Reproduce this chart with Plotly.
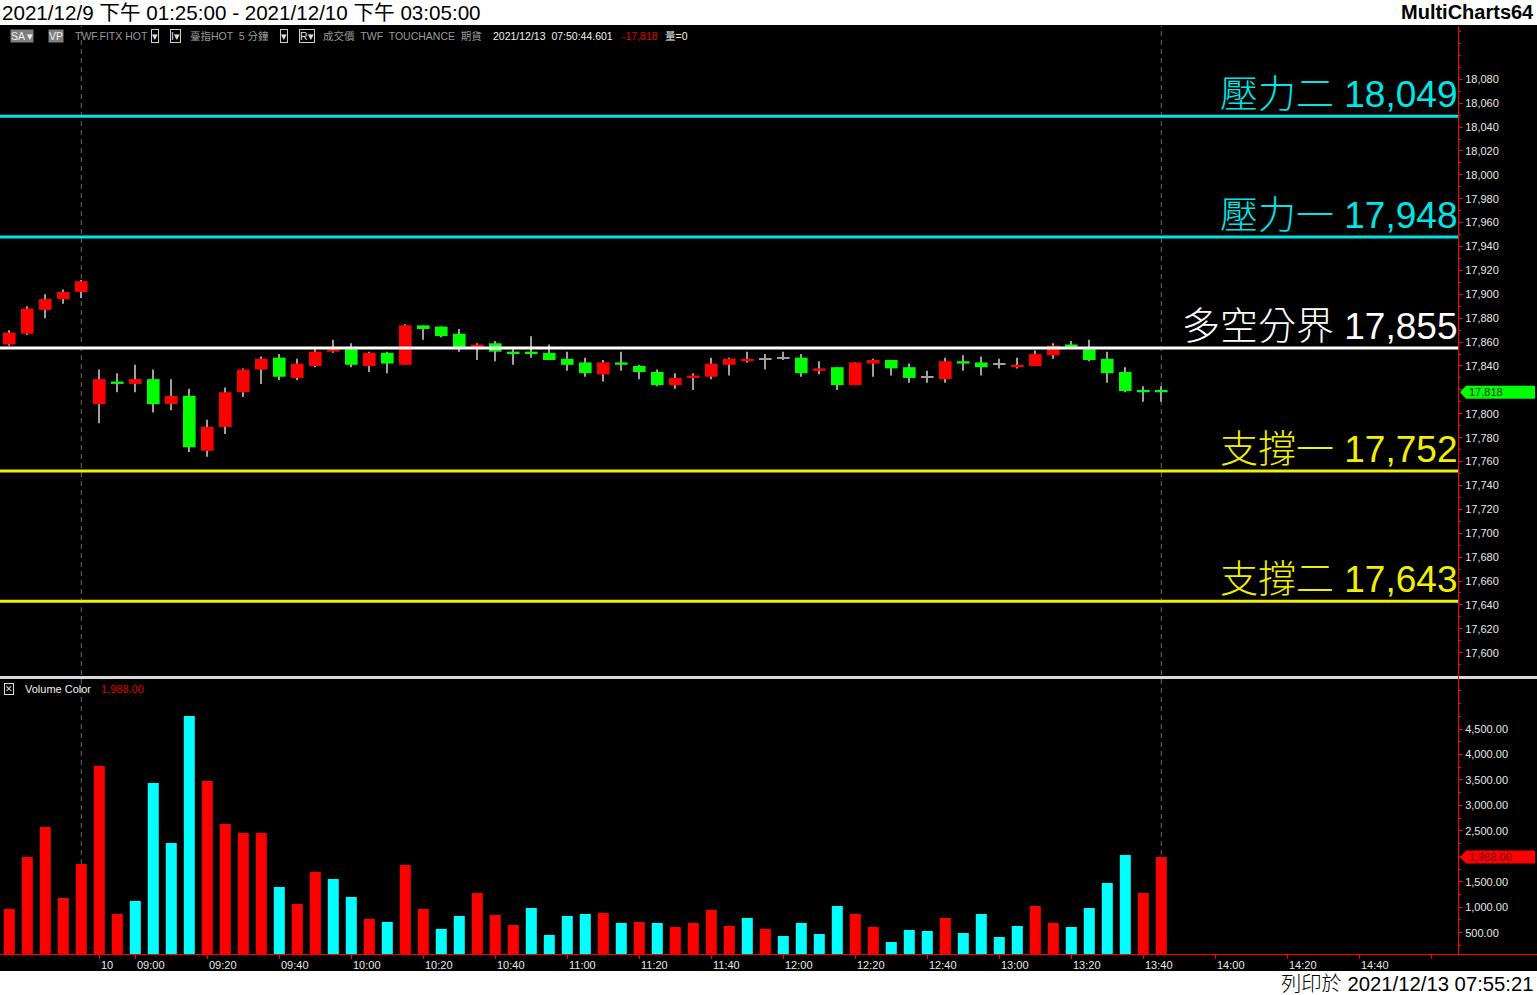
import plotly.graph_objects as go

W, H = 1537, 995

# ---------------- data ----------------
OPEN = [17858, 17867, 17887, 17896, 17902,
        17808, 17827, 17825, 17829, 17808, 17815, 17769, 17789, 17818, 17837,
        17847, 17830, 17840, 17852, 17854, 17840, 17851, 17841, 17874, 17873,
        17867, 17856, 17859, 17852, 17852, 17851, 17846, 17843, 17833, 17843,
        17840, 17835, 17824, 17830, 17831, 17841, 17844, 17846, 17847, 17847,
        17836, 17839, 17824, 17842, 17845, 17839, 17831, 17829, 17844, 17843,
        17842, 17839, 17840, 17849, 17858, 17854, 17846, 17835, 17820, 17820]
HIGH = [17870, 17890, 17900, 17904, 17912,
        17837, 17834, 17841, 17837, 17829, 17821, 17795, 17822, 17838, 17848,
        17850, 17846, 17854, 17862, 17859, 17852, 17852, 17875, 17874, 17873,
        17871, 17859, 17861, 17854, 17865, 17858, 17852, 17847, 17845, 17852,
        17841, 17837, 17834, 17834, 17847, 17847, 17852, 17850, 17852, 17850,
        17844, 17839, 17843, 17846, 17845, 17842, 17836, 17847, 17849, 17848,
        17846, 17847, 17853, 17859, 17861, 17862, 17852, 17839, 17823, 17823]
LOW = [17857, 17866, 17880, 17892, 17897,
       17792, 17818, 17818, 17801, 17803, 17768, 17764, 17783, 17814, 17825,
       17828, 17828, 17839, 17851, 17839, 17835, 17834, 17841, 17862, 17864,
       17852, 17845, 17844, 17841, 17847, 17845, 17836, 17831, 17827, 17836,
       17829, 17823, 17821, 17820, 17829, 17832, 17843, 17837, 17845, 17831,
       17833, 17820, 17824, 17831, 17832, 17826, 17826, 17826, 17836, 17832,
       17838, 17838, 17840, 17846, 17856, 17844, 17826, 17818, 17810, 17810]
CLOSE = [17868, 17888, 17896, 17902, 17911,
         17829, 17825, 17829, 17808, 17815, 17772, 17789, 17818, 17837, 17846,
         17831, 17842, 17852, 17854, 17841, 17851, 17842, 17874, 17871, 17865,
         17855, 17858, 17852, 17850, 17850, 17845, 17841, 17834, 17843, 17841,
         17835, 17824, 17830, 17832, 17842, 17846, 17846, 17846, 17847, 17834,
         17838, 17824, 17843, 17845, 17838, 17830, 17831, 17844, 17842, 17839,
         17842, 17841, 17850, 17857, 17856, 17845, 17834, 17819, 17818, 17818]
VOLUME = [966, 1987, 2576, 1182, 1850,
          3774, 869, 1124, 3440, 2262, 4755, 3480, 2635, 2458, 2458,
          1398, 1064, 1693, 1555, 1202, 771, 712, 1830, 966, 575,
          829, 1280, 849, 651, 985, 456, 829, 868, 888, 692,
          711, 692, 613, 692, 947, 632, 790, 574, 436, 692,
          475, 1025, 868, 613, 318, 554, 534, 790, 495, 868,
          416, 632, 1025, 692, 613, 985, 1476, 2026, 1280, 1988]
VOL_DIR = list("RRRRRRRCCCCRRRRCRRCCRCRRCCRRRCCCCRCRCRRRRCRCCCCRRCCCRCCCCRRCCCCRR")

LEVEL_NAMES = ["壓力二", "壓力一", "多空分界", "支撐一", "支撐二"]
LEVEL_VALUES = [18049, 17948, 17855, 17752, 17643]
LEVEL_COLORS = ["#00E6E6", "#00E6E6", "#FFFFFF", "#F0F000", "#F0F000"]

XTICK_POS = [6, 8, 12, 16, 20, 24, 28, 32, 36, 40, 44, 48, 52, 56, 60, 64, 68, 72, 76, 80]
XTICK_TEXT = ["10", "09:00", "09:20", "09:40", "10:00", "10:20", "10:40", "11:00",
              "11:20", "11:40", "12:00", "12:20", "12:40", "13:00", "13:20", "13:40",
              "14:00", "14:20", "14:40", ""]
SESSION_END = [5, 65]
PRICE_TICKS = list(range(17600, 18081, 20))
VOL_TICKS = [500, 1000, 1500, 2000, 2500, 3000, 3500, 4000, 4500]

# ---------------- helpers ----------------
FONT = "Liberation Sans, Arial, Noto Sans CJK TC, sans-serif"


def px(x):
    return x / W


def py(y):
    return 1 - y / H


IDX = list(range(1, len(OPEN) + 1))
RED, GREEN, CYAN, GRAY = "#FF0000", "#00FF00", "#00FFFF", "#A0A0A0"

body_base, body_h, body_col = [], [], []
for o, c in zip(OPEN, CLOSE):
    if c == o:
        body_base.append(o - 0.45)
        body_h.append(0.9)
        body_col.append(GRAY)
    else:
        lo, hi = min(o, c), max(o, c)
        h = max(hi - lo, 1.7)
        body_base.append(lo)
        body_h.append(h)
        body_col.append(RED if c > o else GREEN)

last_c = CLOSE[-1]
last_v = VOLUME[-1]

fig = go.Figure()

# wicks
fig.add_trace(go.Bar(x=IDX, y=[h - l for h, l in zip(HIGH, LOW)], base=LOW,
                     width=1.1 / 18, marker=dict(color=GRAY, line=dict(width=0)),
                     xaxis="x", yaxis="y", hoverinfo="skip"))
# bodies
fig.add_trace(go.Bar(x=IDX, y=body_h, base=body_base, width=0.7,
                     marker=dict(color=body_col, line=dict(width=0)),
                     xaxis="x", yaxis="y", hoverinfo="skip"))
# volume
fig.add_trace(go.Bar(x=IDX, y=VOLUME, width=0.61,
                     marker=dict(color=[RED if d == "R" else CYAN for d in VOL_DIR],
                                 line=dict(width=0)),
                     xaxis="x2", yaxis="y2", hoverinfo="skip"))

XR = [0.4833, 81.4833]
XDOM = [0, px(1458)]
PR = [17580.5, 18124.6]
VR = [82, 5482]

tickfont = dict(family=FONT, size=11, color="#E8E8E8")

# labels hidden behind the last-value flags
price_text = ["" if abs(v - last_c) < 10 else f"{v:,}" for v in PRICE_TICKS]
vol_text = ["" if abs(v - last_v) < 200 else f"{v:,.2f}" for v in VOL_TICKS]

fig.update_layout(
    width=W, height=H,
    margin=dict(l=0, r=0, t=0, b=0),
    paper_bgcolor="#000000", plot_bgcolor="#000000",
    barmode="overlay", showlegend=False, hovermode=False,
    xaxis=dict(domain=XDOM, range=XR, showgrid=False, zeroline=False,
               showticklabels=False, ticks="", anchor="y"),
    yaxis=dict(domain=[py(676), py(26)], range=PR, side="right",
               anchor="x", showgrid=False, zeroline=False, showline=False,
               tickmode="array", tickvals=PRICE_TICKS, ticktext=price_text,
               ticks="outside", ticklen=4, tickcolor=RED, tickwidth=1,
               minor=dict(ticks="outside", ticklen=2, tickcolor=RED, dtick=10, tick0=0),
               tickfont=tickfont),
    xaxis2=dict(domain=XDOM, range=XR, showgrid=False, zeroline=False,
                showticklabels=False, tickmode="array", tickvals=XTICK_POS,
                ticks="outside", ticklen=4, tickcolor=RED, anchor="y2"),
    yaxis2=dict(domain=[py(954), py(679)], range=VR, side="right",
                anchor="x2", showgrid=False, zeroline=False, showline=False,
                tickmode="array", tickvals=VOL_TICKS, ticktext=vol_text,
                ticks="outside", ticklen=4, tickcolor=RED, tickwidth=1,
                minor=dict(ticks="outside", ticklen=2, tickcolor=RED, dtick=250, tick0=0),
                tickfont=tickfont),
)

shapes = []
# header / footer white strips
shapes.append(dict(type="rect", xref="paper", yref="paper", x0=0, x1=1,
                   y0=py(25), y1=1, fillcolor="#FFFFFF", line=dict(width=0), layer="below"))
shapes.append(dict(type="rect", xref="paper", yref="paper", x0=0, x1=1,
                   y0=0, y1=py(971), fillcolor="#FFFFFF", line=dict(width=0), layer="below"))
# session end dashed lines
for s in SESSION_END:
    shapes.append(dict(type="line", xref="x", yref="paper", x0=s, x1=s,
                       y0=py(954), y1=py(26),
                       line=dict(color="#6A6A6A", width=1, dash="5px,4px"), layer="below"))
# level lines
for v, c in zip(LEVEL_VALUES, LEVEL_COLORS):
    shapes.append(dict(type="line", xref="paper", yref="y", x0=0, x1=px(1458),
                       y0=v, y1=v, line=dict(color=c, width=3)))
# pane separator
shapes.append(dict(type="line", xref="paper", yref="paper", x0=0, x1=1,
                   y0=py(677.5), y1=py(677.5), line=dict(color="#D8D8D8", width=3)))
# red axis lines
shapes.append(dict(type="line", xref="paper", yref="paper", x0=px(1458.5), x1=px(1458.5),
                   y0=py(954), y1=py(26), line=dict(color=RED, width=1)))
shapes.append(dict(type="line", xref="paper", yref="paper", x0=0, x1=1,
                   y0=py(954.5), y1=py(954.5), line=dict(color=RED, width=1)))

# last value flags
hp = 6.5 * (PR[1] - PR[0]) / 650
shapes.append(dict(type="path", xref="paper", yref="y", fillcolor=GREEN, line=dict(width=0),
                   path=f"M {px(1460)},{last_c} L {px(1466)},{last_c + hp} L {px(1535)},{last_c + hp} "
                        f"L {px(1535)},{last_c - hp} L {px(1466)},{last_c - hp} Z"))
hv = 6.5 * (VR[1] - VR[0]) / 275
shapes.append(dict(type="path", xref="paper", yref="y2", fillcolor=RED, line=dict(width=0),
                   path=f"M {px(1460)},{last_v} L {px(1466)},{last_v + hv} L {px(1535)},{last_v + hv} "
                        f"L {px(1535)},{last_v - hv} L {px(1466)},{last_v - hv} Z"))
fig.update_layout(shapes=shapes)

ann = []
# level labels
for n, v, c in zip(LEVEL_NAMES, LEVEL_VALUES, LEVEL_COLORS):
    ann.append(dict(text=f"<span style='font-size:38px'>{n}</span> {v:,}",
                    xref="paper", yref="y", x=px(1459), y=v,
                    xanchor="right", yanchor="bottom", showarrow=False, yshift=-1,
                    font=dict(family=FONT, size=37, color=c, weight=300)))
# flag texts
ann.append(dict(text=f"{last_c:,}", xref="paper", yref="y", x=px(1467), y=last_c,
                xanchor="left", yanchor="middle", showarrow=False,
                font=dict(family=FONT, size=11, color="#003300")))
ann.append(dict(text=f"{last_v:,.2f}", xref="paper", yref="y2", x=px(1467), y=last_v,
                xanchor="left", yanchor="middle", showarrow=False,
                font=dict(family=FONT, size=11, color="#6A0000")))
# x tick labels
for p, t in zip(XTICK_POS, XTICK_TEXT):
    if t:
        ann.append(dict(text=t, xref="x2", yref="paper", x=p, y=py(964.5), xshift=0,
                        xanchor="left", yanchor="middle", showarrow=False, font=tickfont))

# header / footer text
ann.append(dict(text="2021/12/9 下午 01:25:00 - 2021/12/10 下午 03:05:00",
                xref="paper", yref="paper", x=0, y=py(12.5), xanchor="left", yanchor="middle",
                showarrow=False, font=dict(family=FONT, size=20.6, color="#000000")))
ann.append(dict(text="<b>MultiCharts64</b>", xref="paper", yref="paper", x=px(1536), y=py(12.5),
                xanchor="right", yanchor="middle", showarrow=False,
                font=dict(family=FONT, size=20, color="#000000")))
ann.append(dict(text="列印於 2021/12/13 07:55:21", xref="paper", yref="paper", x=px(1536),
                y=py(984), xanchor="right", yanchor="middle", showarrow=False,
                font=dict(family=FONT, size=20.3, color="#000000", weight=300)))

# toolbar row
small = 10.5
TB = [
    ("SA ▾", 10, "#F0F0F0", "#7F7F7F", None),
    ("VP", 48, "#F0F0F0", "#7F7F7F", None),
    ("TWF.FITX HOT", 74, "#9A9A9A", None, None),
    ("▾", 151, "#E0E0E0", None, "#D0D0D0"),
    ("I▾", 170, "#E0E0E0", None, "#D0D0D0"),
    ("臺指HOT  5 分鐘", 189, "#9A9A9A", None, None),
    ("▾", 280, "#E0E0E0", None, "#D0D0D0"),
    ("R▾", 299, "#E0E0E0", None, "#D0D0D0"),
    ("成交價  TWF  TOUCHANCE  期貨", 322, "#9A9A9A", None, None),
    ("2021/12/13  07:50:44.601", 492, "#F0F0F0", None, None),
    ("-17,818", 621, "#E00000", None, None),
    ("量=0", 664, "#F0F0F0", None, None),
]
for t, x, col, bg, bd in TB:
    d = dict(text=t, xref="paper", yref="paper", x=px(x), y=py(36), xanchor="left",
             yanchor="middle", showarrow=False, borderpad=0,
             font=dict(family=FONT, size=small, color=col))
    if bg:
        d["bgcolor"] = bg
    if bd:
        d["bordercolor"] = bd
        d["borderwidth"] = 1
    ann.append(d)

# volume legend
ann.append(dict(text="✕", xref="paper", yref="paper", x=px(4), y=py(689), xanchor="left",
                yanchor="middle", showarrow=False, borderpad=0, bordercolor="#E0E0E0",
                borderwidth=1, font=dict(family="DejaVu Sans", size=9, color="#E0E0E0")))
ann.append(dict(text="Volume Color", xref="paper", yref="paper", x=px(23), y=py(689),
                xanchor="left", yanchor="middle", showarrow=False,
                font=dict(family=FONT, size=11, color="#F0F0F0")))
ann.append(dict(text=f"{last_v:,.2f}", xref="paper", yref="paper", x=px(99), y=py(689),
                xanchor="left", yanchor="middle", showarrow=False,
                font=dict(family=FONT, size=11, color="#E00000")))

fig.update_layout(annotations=ann)

fig.write_html("out.html", config={"displayModeBar": False},
               post_script="document.body.style.margin='0';document.body.style.overflow='hidden';")
